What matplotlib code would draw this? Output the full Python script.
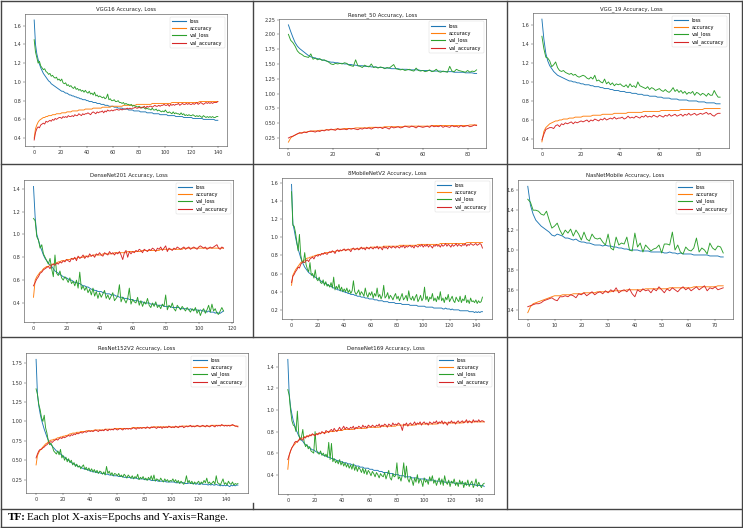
import numpy as np
import matplotlib
matplotlib.use("Agg")
import matplotlib.pyplot as plt
from matplotlib.lines import Line2D
from matplotlib.ticker import MultipleLocator

# values, in hundredths
vgg16_loss = [166,140,130,124,119,115,112,109,107,105,
              103,101,100,98,97,96,95,94,93,92,
              91,90,90,89,88,88,87,86,86,85,
              85,84,84,83,83,82,82,81,81,81,
              80,80,79,79,79,78,78,78,77,77,
              77,76,76,76,75,75,75,74,74,74,
              74,73,73,73,72,72,72,72,71,71,
              71,71,70,70,70,70,69,69,69,69,
              69,68,68,68,68,68,67,67,67,67,
              67,66,66,66,66,66,65,65,65,65,
              65,65,64,64,64,64,64,64,63,63,
              63,63,63,63,62,62,62,62,62,62,
              62,61,61,61,61,61,61,61,61,60,
              60,60,60,60,60,60,60,60,59,59,
              59]
vgg16_acc = [40,50,54,57,59,60,61,62,62,63,
             63,64,64,64,65,65,65,66,66,66,
             66,67,67,67,67,68,68,68,68,69,
             69,69,69,69,70,70,70,70,70,71,
             71,71,71,71,71,72,72,72,72,72,
             72,72,73,73,73,73,73,73,73,74,
             74,74,74,74,74,74,74,74,75,75,
             75,75,75,75,75,75,75,75,76,76,
             76,76,76,76,76,76,76,76,76,76,
             77,77,77,77,77,77,77,77,77,77,
             77,77,77,77,77,78,78,78,78,78,
             78,78,78,78,78,78,78,78,78,78,
             78,78,78,78,78,78,79,79,79,79,
             79,79,79,79,79,79,79,79,79,79,
             79]
vgg16_val_loss = [145,132,126,120,122,117,115,113,114,111,
                  110,108,109,106,107,105,104,105,102,103,
                  101,103,99,98,99,96,97,95,96,94,
                  93,95,92,93,91,92,90,91,89,91,
                  89,88,90,87,88,86,89,85,86,84,
                  85,84,83,84,82,83,87,81,82,80,
                  80,81,79,79,80,78,78,77,78,76,
                  77,76,76,75,76,74,75,74,74,73,
                  74,73,72,73,72,71,72,71,71,70,
                  72,70,70,71,69,70,69,68,69,68,
                  70,68,67,68,67,66,68,66,67,66,
                  66,65,67,65,66,64,65,64,65,64,
                  64,65,64,63,64,63,64,63,62,64,
                  63,62,63,62,63,62,63,62,62,63,
                  63]
vgg16_val_acc = [38,46,50,52,51,54,55,56,55,58,
                 57,58,59,58,60,59,61,60,61,62,
                 62,61,63,62,63,62,64,63,63,64,
                 63,65,64,64,66,65,64,66,65,66,
                 66,67,66,65,67,68,67,66,68,67,
                 68,68,69,67,69,68,70,69,69,70,
                 69,70,70,71,70,70,71,70,71,71,
                 71,72,71,72,71,72,72,73,72,72,
                 73,72,73,73,74,72,74,73,74,74,
                 73,74,75,74,74,75,74,75,75,76,
                 75,75,76,74,76,75,76,75,76,76,
                 77,75,76,77,76,76,77,76,77,76,
                 76,77,76,77,78,76,77,78,77,76,
                 77,78,77,78,77,78,77,78,78,78,
                 79]

resnet50_loss = [216,205,195,186,180,176,173,170,167,164,
                 162,161,160,159,158,157,156,155,154,153,
                 153,152,152,151,151,150,150,149,149,148,
                 148,147,147,147,146,146,146,145,145,145,
                 144,144,144,143,143,143,142,142,142,142,
                 141,141,141,141,140,140,140,140,140,139,
                 139,139,139,139,138,138,138,138,138,137,
                 137,137,137,137,136,136,136,136,136,135,
                 135,135,135,134,134]
resnet50_acc = [18,25,28,30,32,33,34,35,35,36,
                36,37,37,37,38,38,38,39,39,39,
                39,40,40,40,40,41,41,41,41,41,
                42,42,42,42,42,42,43,43,43,43,
                43,43,43,44,44,44,44,44,44,44,
                44,44,45,45,45,45,45,45,45,45,
                45,45,45,45,46,46,46,46,46,46,
                46,46,46,46,46,46,46,46,46,46,
                46,47,47,47,47]
resnet50_val_loss = [200,190,186,180,172,168,166,163,162,161,
                     167,158,160,157,159,156,157,155,153,150,
                     149,151,150,151,150,152,151,148,147,146,
                     157,147,146,144,148,146,145,150,144,145,
                     143,145,144,142,144,143,146,149,142,141,
                     140,141,139,140,141,139,138,143,139,138,
                     139,137,138,140,137,138,141,137,136,138,
                     137,136,146,138,137,141,139,138,137,136,
                     139,136,138,137,140]
resnet50_val_acc = [25,27,28,30,32,34,33,35,34,36,
                    37,36,35,37,36,38,37,39,38,40,
                    39,38,41,39,40,40,39,41,40,41,
                    40,39,41,40,42,41,42,40,42,43,
                    42,43,41,43,42,40,44,42,43,44,
                    42,43,45,44,43,45,44,42,45,44,
                    43,44,45,43,46,44,45,44,46,43,
                    45,44,43,46,44,45,43,46,44,45,
                    46,44,45,47,46]

vgg19_loss = [166,145,130,122,117,114,111,109,107,106,
              105,104,103,102,101,101,100,100,99,99,
              98,98,97,97,97,96,96,95,95,95,
              94,94,93,93,93,92,92,91,91,91,
              90,90,90,89,89,89,88,88,88,87,
              87,87,86,86,86,85,85,85,85,84,
              84,84,83,83,83,83,82,82,82,82,
              81,81,81,81,81,80,80,80,80,80,
              79,79,79,79,78,78,78,78,78,77,
              77,77]
vgg19_acc = [37,48,52,54,56,57,58,59,59,60,
             60,61,61,61,62,62,62,63,63,63,
             63,64,64,64,64,64,65,65,65,65,
             65,66,66,66,66,66,66,67,67,67,
             67,67,67,67,68,68,68,68,68,68,
             68,68,69,69,69,69,69,69,69,69,
             69,70,70,70,70,70,70,70,70,70,
             70,71,71,71,71,71,71,71,71,71,
             71,71,71,72,72,72,72,72,72,72,
             72,72]
vgg19_val_loss = [148,135,126,125,122,116,118,121,115,112,
                  111,112,110,109,108,109,107,108,106,105,
                  106,107,106,104,103,105,103,107,101,102,
                  100,99,103,98,100,97,99,96,98,97,
                  98,96,95,97,94,98,95,96,94,100,
                  96,95,94,93,95,92,94,93,91,92,
                  93,91,90,92,90,89,91,94,90,92,
                  89,91,88,90,87,89,88,90,86,89,
                  88,86,88,87,85,88,86,86,91,87,
                  84,84]
vgg19_val_acc = [39,45,50,51,52,52,51,54,55,53,
                 56,55,57,56,57,58,56,58,57,58,
                 59,58,59,60,58,60,59,61,60,59,
                 61,60,62,60,61,62,61,63,61,62,
                 62,63,61,62,64,62,63,62,64,63,
                 62,64,63,65,63,64,63,65,64,63,
                 65,64,63,65,64,66,64,65,66,64,
                 65,66,64,66,65,67,65,66,67,65,
                 66,67,66,67,68,66,67,65,64,66,
                 67,67]

dn201_loss = [142,115,100,95,90,86,82,79,77,75,
              73,72,70,68,67,66,65,64,63,62,
              62,61,60,60,59,58,58,57,57,56,
              55,55,54,54,53,52,52,51,51,50,
              50,50,49,49,48,48,48,47,47,47,
              46,46,45,45,45,44,44,44,43,43,
              43,42,42,42,41,41,41,40,40,40,
              40,39,39,39,39,38,38,38,38,37,
              37,37,37,37,36,36,36,36,36,35,
              35,35,35,35,34,35,34,34,34,34,
              33,34,33,33,33,32,33,32,32,32,
              31,32,31,31,32,33]
dn201_acc = [45,60,63,65,67,68,70,71,72,72,
             73,74,74,75,75,76,76,77,77,77,
             78,78,78,79,79,79,79,80,80,80,
             80,81,81,81,81,81,82,82,82,82,
             82,82,83,83,83,83,83,83,83,84,
             84,84,84,84,84,84,84,85,85,85,
             85,85,85,85,85,85,86,86,86,86,
             86,86,86,86,86,86,86,87,87,87,
             87,87,87,87,87,87,87,87,87,87,
             87,88,88,88,88,88,88,88,88,88,
             88,88,88,88,88,88,88,88,88,88,
             88,88,88,88,88,88]
dn201_val_loss = [114,112,98,95,88,91,83,80,77,74,
                  79,70,63,82,66,64,68,62,60,63,
                  61,58,62,57,59,55,60,53,67,52,
                  55,51,54,49,52,47,53,46,50,44,
                  49,45,48,51,44,47,43,46,49,42,
                  44,46,56,41,45,43,40,44,53,39,
                  43,41,40,45,38,42,37,41,39,44,
                  38,36,40,37,41,36,38,35,39,37,
                  47,34,38,36,40,35,33,38,36,34,
                  37,35,33,36,34,32,35,33,36,31,
                  34,29,33,35,31,34,38,32,39,33,
                  35,31,30,33,36,33]
dn201_val_acc = [55,58,61,63,66,67,69,70,71,72,
                 70,73,74,73,75,74,76,75,77,76,
                 78,77,76,79,78,80,77,81,79,80,
                 82,79,81,80,83,81,82,80,83,82,
                 84,82,81,84,83,82,85,83,84,82,
                 84,83,85,82,78,84,86,80,85,83,
                 85,84,86,85,87,86,84,87,86,85,
                 87,86,88,87,85,88,87,89,86,88,
                 90,85,88,87,86,88,87,89,88,87,
                 88,89,87,88,89,87,88,89,88,87,
                 89,90,89,88,89,87,88,89,88,89,
                 90,91,88,87,89,88]

mnv2_loss = [158,115,108,100,93,87,82,77,73,70,
             67,65,63,61,60,59,58,57,56,55,
             54,53,52,51,50,49,49,48,47,46,
             46,45,44,44,43,42,42,41,41,40,
             40,39,39,38,38,37,37,37,36,36,
             35,35,35,34,34,34,33,33,33,32,
             32,32,32,31,31,31,30,30,30,30,
             29,29,29,29,28,28,28,28,28,27,
             27,27,27,27,26,26,26,26,26,26,
             25,25,25,25,25,25,24,24,24,24,
             24,24,23,23,23,23,23,23,22,22,
             22,22,22,22,22,21,21,22,21,21,
             21,20,21,20,20,20,20,20,19,19,
             19,19,19,19,19,18,18,18,18,17,
             18,17,18,17,18,18]
mnv2_acc = [47,58,61,64,66,68,70,72,73,74,
            75,76,77,77,78,78,79,79,80,80,
            81,81,81,82,82,82,83,83,83,83,
            84,84,84,84,85,85,85,85,85,86,
            86,86,86,86,86,87,87,87,87,87,
            87,87,88,88,88,88,88,88,88,88,
            89,89,89,89,89,89,89,89,89,89,
            90,90,90,90,90,90,90,90,90,90,
            90,90,91,91,91,91,91,91,91,91,
            91,91,91,91,91,91,92,92,92,92,
            92,92,92,92,92,92,92,92,92,92,
            92,92,92,93,93,93,93,93,93,93,
            93,93,93,93,93,93,93,93,93,93,
            93,93,93,94,94,94,94,94,94,94,
            94,94,94,94,94,94]
mnv2_val_loss = [150,113,112,105,95,85,103,80,73,72,
                 83,70,65,62,72,58,60,55,64,54,
                 52,56,50,49,53,47,51,46,48,45,
                 50,44,56,42,46,43,48,41,45,40,
                 43,40,44,39,42,38,41,52,40,37,
                 39,42,36,40,38,35,44,37,34,39,
                 36,40,33,38,35,44,34,37,32,36,
                 47,33,35,39,32,36,34,31,35,38,
                 32,35,30,34,38,31,33,36,30,41,
                 33,31,35,30,34,37,29,32,36,30,
                 33,45,31,35,29,34,32,38,30,33,
                 29,35,31,40,30,33,28,34,31,37,
                 29,32,35,30,28,34,31,29,35,28,
                 32,30,36,28,31,27,33,29,30,28,
                 31,27,30,28,29,34]
mnv2_val_acc = [50,57,59,62,64,67,66,70,72,73,
                72,74,75,73,76,77,78,76,79,80,
                79,81,80,82,81,83,82,81,83,84,
                83,85,84,82,85,86,84,86,85,86,
                87,85,86,87,86,84,87,88,86,87,
                88,86,87,89,87,88,86,89,88,87,
                89,88,87,89,88,90,87,89,88,86,
                90,88,89,87,90,89,88,90,89,88,
                90,89,88,90,89,91,88,90,89,90,
                91,89,90,88,91,90,89,91,90,92,
                89,91,90,92,89,91,90,88,91,90,
                92,90,91,89,92,90,91,93,90,92,
                91,89,92,90,91,93,90,92,91,90,
                92,91,93,90,92,91,93,92,91,92,
                93,91,92,93,92,88]

nas_loss = [164,145,136,130,127,124,122,120,118,115,
            114,116,115,114,112,112,111,110,111,109,
            108,108,107,107,106,105,105,105,104,105,
            104,104,103,103,102,102,101,101,100,100,
            100,100,99,99,99,99,98,98,98,98,
            98,97,97,98,97,97,96,97,96,96,
            96,96,95,95,95,95,95,95,94,94,
            94,94,93,93]
nas_acc = [37,43,46,47,48,49,50,51,52,53,
           54,54,54,55,55,55,55,56,56,56,
           56,57,57,57,57,57,58,58,58,58,
           58,58,59,59,59,59,59,60,60,60,
           60,60,60,60,61,61,61,61,61,61,
           61,61,61,62,62,62,62,62,62,62,
           62,62,63,63,63,63,63,63,63,63,
           63,64,64,64]
nas_val_loss = [151,148,140,140,139,136,135,139,130,122,
                124,127,120,115,120,117,121,114,120,116,
                110,118,111,109,116,112,111,112,108,105,
                116,102,100,113,105,107,106,113,100,99,
                117,103,107,98,105,102,99,101,102,105,
                97,106,106,105,118,100,105,98,96,103,
                100,99,102,112,98,102,100,96,107,102,
                100,104,103,97]
nas_val_acc = [43,44,45,46,46,47,49,50,51,52,
               50,49,53,53,54,53,55,54,52,56,
               55,57,54,56,58,55,57,58,56,59,
               57,60,58,62,57,59,60,58,61,56,
               53,60,58,61,59,60,57,61,59,63,
               60,57,61,59,62,60,58,61,63,60,
               62,59,61,63,60,62,64,59,62,61,
               63,60,61,62]

r152_loss = [180,135,120,110,102,96,90,85,80,76,
             72,70,68,66,64,62,61,60,58,57,
             55,54,52,51,50,48,47,46,45,44,
             43,42,42,41,40,39,39,38,38,37,
             36,36,35,35,35,34,34,34,33,33,
             33,32,32,32,31,31,31,30,30,30,
             30,29,29,29,29,28,28,28,28,28,
             27,27,27,27,27,26,26,26,26,26,
             25,25,25,25,25,24,24,24,24,24,
             23,23,23,23,23,23,22,22,22,22,
             22,22,22,21,21,21,21,21,21,21,
             20,20,20,21,20,20,20,20,19,20,
             19,19,20,19,19,19,19,18,19,18,
             19,18,18,19,18,18,17,18,17,18,
             17,18,17,16,18,17,18,17,18,18]
r152_acc = [44,56,60,63,65,67,69,71,72,74,
            75,76,76,77,77,78,79,79,80,80,
            81,81,82,82,83,84,84,85,85,85,
            86,86,86,87,87,87,87,88,88,88,
            88,88,88,89,89,89,89,89,89,89,
            89,90,90,90,90,90,90,90,91,91,
            91,91,91,91,91,91,91,91,91,91,
            91,92,92,92,92,92,92,92,92,92,
            92,92,92,92,92,92,93,93,93,93,
            93,93,93,93,93,93,93,93,93,93,
            93,93,93,93,93,93,93,94,94,94,
            94,94,94,94,94,94,94,94,94,94,
            94,94,94,94,94,94,94,94,94,95,
            95,95,95,95,95,95,95,95,95,95,
            95,95,95,95,95,95,95,94,94,94]
r152_val_loss = [142,135,122,115,105,100,108,92,85,75,
                 70,72,68,62,60,58,62,57,64,53,
                 56,50,54,48,52,47,50,44,47,42,
                 45,41,43,39,42,44,38,41,37,40,
                 36,39,35,38,34,37,33,36,35,32,
                 35,31,42,33,36,31,34,30,33,32,
                 30,33,29,31,28,32,30,27,31,29,
                 27,30,26,29,27,32,25,28,26,29,
                 25,27,24,28,25,30,24,31,23,26,
                 25,23,27,24,22,26,23,25,22,24,
                 23,26,22,25,21,24,20,23,21,19,
                 22,30,21,24,20,23,19,22,20,21,
                 23,19,22,20,24,21,27,20,22,19,
                 21,23,19,30,21,20,18,22,26,19,
                 21,18,23,20,19,22,18,20,19,20]
r152_val_acc = [53,58,62,64,64,66,67,69,70,72,
                73,74,73,75,76,77,76,78,79,78,
                80,79,80,81,82,81,83,82,84,83,
                85,84,85,86,85,86,87,86,87,88,
                87,88,87,88,89,88,87,89,88,89,
                88,90,89,88,90,89,90,89,91,90,
                89,90,91,90,89,91,90,91,90,91,
                90,91,92,91,90,92,91,92,91,92,
                92,91,93,92,91,93,92,93,92,91,
                93,92,93,91,93,92,93,92,94,93,
                92,93,92,94,93,92,94,93,94,92,
                93,94,93,94,95,93,94,93,94,95,
                94,93,94,95,94,93,95,94,93,94,
                95,94,93,95,94,95,94,96,95,94,
                95,94,95,94,95,96,95,94,94,93]

dn169_loss = [147,115,103,96,90,86,82,79,76,74,
              72,71,69,68,67,66,65,64,63,63,
              62,61,61,60,60,59,58,58,57,57,
              56,56,55,55,54,54,53,53,52,52,
              52,51,51,51,50,50,50,49,49,49,
              48,48,48,47,47,47,46,46,46,46,
              45,45,45,44,44,44,44,43,43,43,
              42,42,42,42,41,41,41,41,40,40,
              40,40,39,39,39,39,38,38,38,38,
              38,37,37,37,37,37,36,36,36,36,
              36,36,35,35,35,35,35,35,34,34,
              34,34,34,34,34,33,33,33,33,33,
              33,33,32,32,32,32,32,32,32,32,
              31,31,31,31,31,31,31,31,30,30,
              30,30,30,30,29]
dn169_acc = [45,58,62,65,67,68,70,71,72,73,
             74,74,75,75,76,76,76,77,77,77,
             77,78,78,78,78,79,79,79,79,80,
             80,80,80,80,80,81,81,81,81,81,
             81,82,82,82,82,82,82,82,82,83,
             83,83,83,83,83,83,83,83,84,84,
             84,84,84,84,84,84,84,84,85,85,
             85,85,85,85,85,85,85,85,85,85,
             86,86,86,86,86,86,86,86,86,86,
             86,86,86,86,87,87,87,87,87,87,
             87,87,87,87,87,87,87,87,87,87,
             88,88,88,88,88,88,88,88,88,88,
             88,88,88,88,88,88,88,88,88,89,
             89,89,89,89,89,89,89,89,89,89,
             89,89,89,89,89]
dn169_val_loss = [119,114,100,90,86,85,80,99,78,72,
                  75,82,70,66,68,64,66,62,61,60,
                  80,63,60,59,62,58,60,57,59,56,
                  70,54,69,52,55,51,53,50,54,49,
                  52,48,51,47,50,46,49,45,50,44,
                  48,43,47,45,42,46,41,45,40,44,
                  42,39,43,41,38,42,40,37,41,39,
                  38,42,36,40,44,37,35,41,38,39,
                  51,36,38,34,40,51,37,48,36,33,
                  38,35,30,37,33,40,32,36,34,29,
                  37,33,35,31,38,34,39,32,35,30,
                  34,37,31,36,30,39,33,31,35,29,
                  34,32,36,30,33,29,35,31,34,28,
                  33,30,35,29,32,34,28,31,36,29,
                  33,30,28,31,32]
dn169_val_acc = [54,58,62,65,67,70,71,70,72,74,
                 73,72,75,74,76,75,77,76,78,77,
                 76,78,77,79,78,80,79,78,81,80,
                 79,81,82,80,83,81,80,82,84,81,
                 83,85,82,84,83,82,84,83,85,82,
                 84,83,85,84,83,86,84,85,83,86,
                 85,84,86,85,84,86,85,87,84,86,
                 85,87,86,84,87,86,85,88,86,87,
                 86,88,87,85,81,87,86,88,85,87,
                 88,86,87,89,86,88,87,89,86,88,
                 89,87,88,86,89,88,87,89,88,90,
                 87,89,88,90,87,89,88,86,89,88,
                 90,88,89,87,89,90,88,89,90,88,
                 89,91,88,90,89,88,91,89,90,89,
                 91,89,90,90,89]

series_names = ['loss', 'accuracy', 'val_loss', 'val_accuracy']
colors = ['#1f77b4', '#ff7f0e', '#2ca02c', '#d62728']

# title, series, axes box in pixels (left, top, right, bottom), x step, y step
plots = [
    ('VGG16 Accuracy, Loss', [vgg16_loss, vgg16_acc, vgg16_val_loss, vgg16_val_acc], (25, 14, 227, 146), 20, 0.2),
    ('Resnet_50 Accuracy, Loss', [resnet50_loss, resnet50_acc, resnet50_val_loss, resnet50_val_acc], (279, 19, 486, 148), 20, 0.25),
    ('VGG_19 Accuracy, Loss', [vgg19_loss, vgg19_acc, vgg19_val_loss, vgg19_val_acc], (533, 13, 729, 148), 20, 0.2),
    ('DenseNet201 Accuracy, Loss', [dn201_loss, dn201_acc, dn201_val_loss, dn201_val_acc], (24, 180, 233, 322), 20, 0.2),
    ('8MobileNetV2 Accuracy, Loss', [mnv2_loss, mnv2_acc, mnv2_val_loss, mnv2_val_acc], (282, 178, 492, 319), 20, 0.2),
    ('NasNetMobile Accuracy, Loss', [nas_loss, nas_acc, nas_val_loss, nas_val_acc], (518, 180, 733, 319), 10, 0.2),
    ('ResNet152V2 Accuracy, Loss', [r152_loss, r152_acc, r152_val_loss, r152_val_acc], (26, 353, 248, 493), 20, 0.25),
    ('DenseNet169 Accuracy, Loss', [dn169_loss, dn169_acc, dn169_val_loss, dn169_val_acc], (278, 353, 494, 494), 20, 0.2),
]

W, H = 743, 528
fig = plt.figure(figsize=(W / 100, H / 100), dpi=100)

for title, series, (l, t, r, b), xstep, ystep in plots:
    ax = fig.add_axes([l / W, 1 - b / H, (r - l) / W, (b - t) / H])
    for vals, name, c in zip(series, series_names, colors):
        y = np.array(vals) / 100
        ax.plot(np.arange(len(y)), y, color=c, lw=0.65, label=name)
    ax.set_title(title, fontsize=3.9, pad=2, color='#222222')
    ax.xaxis.set_major_locator(MultipleLocator(xstep))
    ax.yaxis.set_major_locator(MultipleLocator(ystep))
    ax.tick_params(labelsize=3.5, length=1.3, width=0.3, pad=1.3, colors='#333333')
    for s in ax.spines.values():
        s.set_linewidth(0.4)
        s.set_color('#444444')
    leg = ax.legend(fontsize=3.6, loc='upper right', handlelength=2.8, borderpad=0.45,
                    labelspacing=0.4, handletextpad=0.7)
    leg.get_frame().set_linewidth(0.3)
    for ln in leg.get_lines():
        ln.set_linewidth(0.8)


def hline(y, x0, x1, lw=1.0):
    fig.add_artist(Line2D([x0 / W, x1 / W], [1 - y / H, 1 - y / H], color='#444444', lw=lw))


def vline(x, y0, y1, lw=1.0):
    fig.add_artist(Line2D([x / W, x / W], [1 - y0 / H, 1 - y1 / H], color='#444444', lw=lw))


# table grid
hline(1, 1, 742)
hline(164, 1, 742)
hline(337, 1, 742)
hline(509, 1, 742)
hline(527, 1, 742)
vline(1, 1, 527)
vline(742, 1, 527)
vline(253, 1, 337)
vline(507, 1, 509)
vline(253, 503, 509)

fig.text(8 / W, 1 - 518 / H, 'TF:', fontsize=8, fontweight='bold', family='Liberation Serif', va='center')
fig.text(27 / W, 1 - 518 / H, 'Each plot X-axis=Epochs and Y-axis=Range.', fontsize=8,
         family='Liberation Serif', va='center')

fig.savefig('out.png', dpi=100)
